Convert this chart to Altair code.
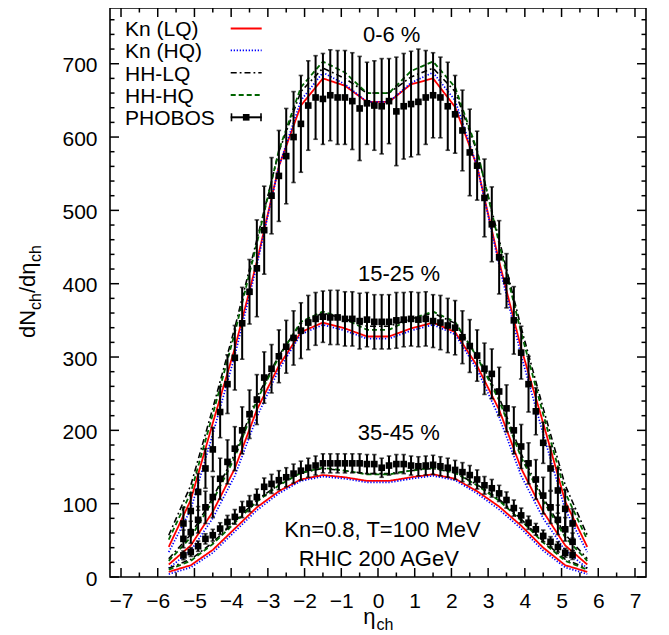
import altair as alt
import pandas as pd

# ---------------- data ----------------
eta_model = [-5.7, -5.1, -4.5, -3.9, -3.3, -2.7, -2.1, -1.5, -0.9, -0.3,
             0.3, 0.9, 1.5, 2.1, 2.7, 3.3, 3.9, 4.5, 5.1, 5.7]

kn_lq = {
    "0-6": [41, 105, 210, 312, 430, 560, 643, 680, 670, 648, 648, 672, 680, 641, 560, 430, 312, 210, 103, 41],
    "15-25": [17, 43, 89, 148, 228, 288, 334, 347, 339, 328, 328, 339, 347, 334, 288, 228, 148, 89, 43, 17],
    "35-45": [7, 16, 37, 66, 95, 117, 133, 139, 136, 131, 131, 136, 140, 134, 117, 96, 70, 40, 16, 7],
}
kn_hq = {
    "0-6": [34, 92, 195, 302, 425, 560, 650, 688, 672, 648, 648, 674, 688, 650, 560, 425, 302, 195, 92, 34],
    "15-25": [12, 36, 80, 138, 218, 283, 331, 344, 336, 325, 325, 336, 344, 331, 283, 218, 138, 80, 36, 12],
    "35-45": [4, 13, 33, 62, 91, 114, 131, 137, 134, 129, 129, 134, 138, 132, 114, 92, 66, 36, 13, 4],
}
hh_lq = {
    "0-6": [57, 125, 230, 340, 460, 580, 662, 694, 680, 660, 660, 682, 694, 662, 580, 460, 340, 230, 125, 57],
    "15-25": [25, 58, 108, 168, 245, 302, 346, 360, 352, 342, 342, 352, 360, 346, 302, 245, 168, 108, 58, 25],
    "35-45": [12, 24, 47, 76, 105, 126, 142, 148, 145, 141, 141, 145, 148, 142, 126, 106, 79, 49, 24, 12],
}
hh_hq = {
    "0-6": [51, 115, 222, 333, 455, 582, 668, 703, 688, 660, 660, 690, 703, 668, 582, 455, 333, 222, 115, 51],
    "15-25": [22, 54, 104, 163, 241, 300, 348, 362, 352, 337, 337, 352, 362, 348, 300, 241, 163, 104, 54, 22],
    "35-45": [10, 22, 45, 74, 103, 125, 142, 149, 145, 140, 140, 145, 149, 142, 125, 104, 77, 47, 22, 10],
}

eta_data = [-5.3, -5.1, -4.9, -4.7, -4.5, -4.3, -4.1, -3.9, -3.7, -3.5, -3.3, -3.1, -2.9, -2.7,
            -2.5, -2.3, -2.1, -1.9, -1.7, -1.5, -1.3, -1.1, -0.9, -0.7, -0.5, -0.3, -0.1,
            0.1, 0.3, 0.5, 0.7, 0.9, 1.1, 1.3, 1.5, 1.7, 1.9, 2.1, 2.3, 2.5, 2.7,
            2.9, 3.1, 3.3, 3.5, 3.7, 3.9, 4.1, 4.3, 4.5, 4.7, 4.9, 5.1, 5.3]

phobos = {
    "0-6": [73, 90, 116, 148, 174, 225, 263, 299, 346, 389, 421, 473, 520, 547,
            574, 600, 618, 643, 654, 652, 657, 654, 654, 649, 639, 646, 643,
            642, 649, 635, 642, 645, 648, 654, 657, 654, 642, 631, 609, 579, 561,
            517, 481, 436, 404, 350, 306, 263, 226, 183, 148, 118, 93, 73],
    "15-25": [52, 61, 78, 95, 109, 134, 157, 175, 200, 222, 242, 272, 284, 301,
              314, 326, 336, 347, 352, 355, 354, 354, 352, 352, 349, 351, 348,
              348, 348, 350, 351, 352, 351, 352, 349, 347, 343, 340, 327, 315, 302,
              284, 277, 253, 230, 200, 178, 155, 133, 111, 95, 78, 65, 48],
    "35-45": [29.5, 34, 42, 52, 57, 66, 75, 82, 92, 100, 109, 123, 127, 132,
              136, 141, 145, 149, 152, 155, 155, 155, 155, 155, 155, 154, 154,
              149, 152, 154, 154, 152, 151, 152, 153, 151, 149, 146, 143, 139, 133,
              125, 121, 114, 105, 94, 84, 74, 65, 56, 48, 41, 33, 30],
}
phobos_err = {
    "0-6": [22, 25, 25, 27, 30, 35, 40, 44, 49, 44, 66, 60, 52, 62,
            65, 62, 66, 61, 57, 62, 62, 64, 64, 66, 71, 56, 61,
            65, 58, 74, 72, 72, 72, 64, 58, 55, 60, 53, 55, 59, 47,
            53, 51, 50, 37, 46, 36, 38, 32, 28, 30, 31, 26, 20],
    "15-25": [12, 15, 18, 22, 28, 28, 30, 30, 32, 33, 34, 35, 33, 36,
              36, 37, 38, 37, 36, 35, 37, 37, 37, 37, 38, 37, 37,
              37, 37, 38, 37, 37, 37, 37, 36, 37, 37, 37, 36, 36, 35,
              35, 34, 33, 32, 32, 30, 28, 27, 25, 22, 20, 16, 12],
    "35-45": [6, 6, 7, 7, 8, 8, 9, 10, 11, 11, 11, 12, 13, 13,
              13, 13, 13, 13, 13, 13, 13, 13, 13, 13, 13, 13, 13,
              13, 13, 13, 13, 13, 13, 13, 13, 13, 13, 13, 13, 13, 13,
              12, 12, 11, 11, 11, 10, 9, 8, 8, 7, 7, 6, 6],
}

x_major = [-7, -6, -5, -4, -3, -2, -1, 0, 1, 2, 3, 4, 5, 6, 7]
x_minor = [-6.5, -5.5, -4.5, -3.5, -2.5, -1.5, -0.5, 0.5, 1.5, 2.5, 3.5, 4.5, 5.5, 6.5]
y_major = [0, 100, 200, 300, 400, 500, 600, 700]
y_minor = [20, 40, 60, 80, 120, 140, 160, 180, 220, 240, 260, 280, 320, 340, 360, 380,
           420, 440, 460, 480, 520, 540, 560, 580, 620, 640, 660, 680, 720, 740, 760]

legend_labels = ["Kn (LQ)", "Kn (HQ)", "HH-LQ", "HH-HQ", "PHOBOS"]
cent_labels = {"0-6": "0-6 %", "15-25": "15-25 %", "35-45": "35-45 %"}
note_lines = ["Kn=0.8, T=100 MeV", "RHIC 200 AGeV"]

# ---------------- build tables ----------------
def curve_df(d):
    rows = []
    for c, vals in d.items():
        for e, v in zip(eta_model, vals):
            rows.append({"eta": e, "val": v, "cent": c})
    return pd.DataFrame(rows)

pts_rows = []
for c in phobos:
    for e, v, er in zip(eta_data, phobos[c], phobos_err[c]):
        pts_rows.append({"eta": e, "val": v, "lo": v - er, "hi": v + er, "cent": c})
pts = pd.DataFrame(pts_rows)

W, H = 536, 569
FONT = "Liberation Sans"
xs = alt.Scale(domain=[-7.3, 7.3], nice=False, zero=False)
ys = alt.Scale(domain=[0, 776], nice=False, zero=False)
xaxis = alt.Axis(values=x_major, ticks=False, tickSize=0, domain=False, grid=False, title=None,
                 labelFont=FONT, labelFontSize=21, labelColor="black", labelPadding=13,
                 labelFlush=False, labelOverlap=False)
yaxis = alt.Axis(values=y_major, ticks=False, tickSize=0, domain=False, grid=False, title=None,
                 labelFont=FONT, labelFontSize=21, labelColor="black", labelPadding=13,
                 labelFlush=False, labelOverlap=False, labelOffset=2)

def X(f):
    return alt.X(f, type="quantitative", scale=xs, axis=xaxis)

def Y(f):
    return alt.Y(f, type="quantitative", scale=ys, axis=yaxis)

layers = []

styles = [
    (kn_lq, "#ff0000", [1, 0], 1.8),
    (kn_hq, "#0000ff", [1.3, 1.7], 1.7),
    (hh_lq, "#000000", [6, 3, 1.8, 3], 1.6),
    (hh_hq, "#006400", [5, 3], 1.8),
]
for d, col, dash, sw in styles:
    layers.append(
        alt.Chart(curve_df(d)).mark_line(color=col, strokeWidth=sw, strokeDash=dash, clip=True)
        .encode(x=X("eta"), y=Y("val"), detail="cent:N")
    )

# PHOBOS points with error bars
layers.append(alt.Chart(pts).mark_rule(color="black", strokeWidth=2)
              .encode(x=X("eta"), y=Y("lo"), y2="hi"))
layers.append(alt.Chart(pts).mark_tick(color="black", orient="horizontal", size=4.5, thickness=1.6)
              .encode(x=X("eta"), y=Y("lo")))
layers.append(alt.Chart(pts).mark_tick(color="black", orient="horizontal", size=4.5, thickness=1.6)
              .encode(x=X("eta"), y=Y("hi")))
layers.append(alt.Chart(pts).mark_point(shape="square", filled=True, color="black", size=44, opacity=1)
              .encode(x=X("eta"), y=Y("val")))

# inward ticks on all four sides
xt_maj = pd.DataFrame({"t": x_major})
xt_min = pd.DataFrame({"t": x_minor})
yt_maj = pd.DataFrame({"t": y_major})
yt_min = pd.DataFrame({"t": y_minor})
for df_, ln in ((xt_maj, 9), (xt_min, 4.5)):
    layers.append(alt.Chart(df_).mark_rule(color="black", strokeWidth=1.5)
                  .encode(x=X("t"), y=alt.value(H), y2=alt.value(H - ln)))
    layers.append(alt.Chart(df_).mark_rule(color="black", strokeWidth=1.5)
                  .encode(x=X("t"), y=alt.value(0), y2=alt.value(ln)))
for df_, ln in ((yt_maj, 9), (yt_min, 4.5)):
    layers.append(alt.Chart(df_).mark_rule(color="black", strokeWidth=1.5)
                  .encode(y=Y("t"), x=alt.value(0), x2=alt.value(ln)))
    layers.append(alt.Chart(df_).mark_rule(color="black", strokeWidth=1.5)
                  .encode(y=Y("t"), x=alt.value(W), x2=alt.value(W - ln)))

one = pd.DataFrame({"k": [0]})

def txt(s, x, y, size=22, align="left", baseline="alphabetic", angle=0):
    kw = dict(font=FONT, fontSize=size, color="black", align=align, baseline=baseline)
    if angle:
        kw["angle"] = angle
    return alt.Chart(one).mark_text(**kw).encode(
        x=alt.value(x), y=alt.value(y), text=alt.value(s))

# legend
leg_base = [28, 50.3, 72.5, 94.8, 117]
leg_line_y = [20.5, 42.3, 64.7, 87, 109.3]
for lab, yb in zip(legend_labels, leg_base):
    layers.append(txt(lab, 15, yb, size=21))
for (d, col, dash, sw), yl in zip(styles, leg_line_y[:4]):
    layers.append(alt.Chart(one).mark_rule(color=col, strokeWidth=sw, strokeDash=dash)
                  .encode(x=alt.value(120.7), x2=alt.value(151.7), y=alt.value(yl)))
yl = leg_line_y[4]
layers.append(alt.Chart(one).mark_rule(color="black", strokeWidth=2)
              .encode(x=alt.value(120.7), x2=alt.value(151.7), y=alt.value(yl)))
for xc in (121.5, 151):
    layers.append(alt.Chart(one).mark_rule(color="black", strokeWidth=1.6)
                  .encode(x=alt.value(xc), y=alt.value(yl - 4), y2=alt.value(yl + 4)))
layers.append(alt.Chart(one).mark_point(shape="square", filled=True, color="black", size=44, opacity=1)
              .encode(x=alt.value(136.2), y=alt.value(yl)))

# centrality labels and notes
layers.append(txt(cent_labels["0-6"], 281.7, 33.7, align="center"))
layers.append(txt(cent_labels["15-25"], 289, 272.5, align="center"))
layers.append(txt(cent_labels["35-45"], 288.8, 432, align="center"))
layers.append(txt(note_lines[0], 272.5, 529, align="center"))
layers.append(txt(note_lines[1], 268.8, 558, align="center"))

# axis titles with subscripts
layers.append(txt("\u03b7", 253.3, 615.5, size=22))
layers.append(txt("ch", 266.5, 622, size=16))
layers.append(txt("dN", -75, 330, size=22, angle=270))
layers.append(txt("ch", -69, 302, size=16, angle=270))
layers.append(txt("/d\u03b7", -75, 285, size=22, angle=270))
layers.append(txt("ch", -69, 254, size=16, angle=270))

chart = alt.layer(*layers).properties(
    width=W, height=H,
    padding={"left": 102, "top": 0, "right": 12, "bottom": 55},
    autosize=alt.AutoSizeParams(type="none"),
).configure_view(stroke="black", strokeWidth=1.6)

chart.save("out.html", embed_options={"renderer": "svg", "actions": False})
